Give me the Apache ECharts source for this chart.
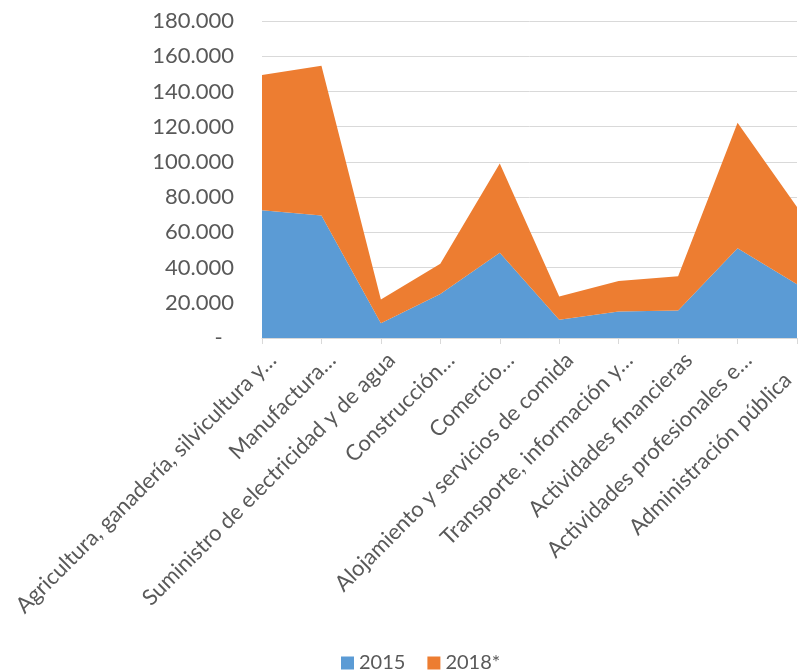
<!DOCTYPE html>
<html><head><meta charset="utf-8">
<script src="https://cdn.jsdelivr.net/npm/echarts@6/dist/echarts.min.js"></script>
<style>html,body{margin:0;padding:0;background:#fff}#c{width:798px;height:672px}</style>
</head><body><div id="c"></div>
<script>
const categories = [
  "Agricultura, ganadería, silvicultura y…",
  "Manufactura…",
  "Suministro de electricidad y de agua",
  "Construcción…",
  "Comercio…",
  "Alojamiento y servicios de comida",
  "Transporte, información y…",
  "Actividades financieras",
  "Actividades profesionales e…",
  "Administración pública"
];
const values2015 = [72500, 69600, 8400, 25000, 48400, 10400, 15000, 15600, 51000, 30500];
const values2018 = [76800, 85000, 13400, 17100, 50700, 13100, 17300, 19500, 71200, 43900];
const seriesNames = ["2015", "2018*"];

const font = "Lato, 'Open Sans', sans-serif";
const chart = echarts.init(document.getElementById('c'), null, {renderer: 'canvas'});
chart.setOption({
  animation: false,
  backgroundColor: '#fff',
  color: ['#5B9BD5', '#ED7D31'],
  grid: {left: 262, right: 1, top: 21, bottom: 334, containLabel: false, outerBoundsMode: 'none'},
  legend: {
    top: 648, left: 336, itemWidth: 13, itemHeight: 13, itemGap: 22,
    icon: 'rect',
    textStyle: {color: '#595959', fontSize: 20, fontFamily: font},
    data: seriesNames
  },
  xAxis: {
    type: 'category', data: categories, boundaryGap: false,
    axisLine: {lineStyle: {color: '#d9d9d9', width: 1}},
    axisTick: {show: true, alignWithLabel: true, length: 6, lineStyle: {color: '#d9d9d9'}},
    axisLabel: {rotate: 45, interval: 0, margin: 8, lineHeight: 30,
      formatter: (v, i) => i === categories.length - 1 ? ' \n{e|' + v + '}' : ' \n' + v,
      rich: {e: {padding: [0, 28, 0, 0], color: '#595959', fontSize: 22, fontFamily: font, lineHeight: 30}},
      color: '#595959', fontSize: 22, fontFamily: font}
  },
  yAxis: {
    type: 'value', min: 0, max: 180000, interval: 20000,
    axisLine: {show: false}, axisTick: {show: false},
    splitLine: {lineStyle: {color: '#d9d9d9', width: 1}},
    axisLabel: {
      margin: 28, color: '#595959', fontSize: 22, fontFamily: font,
      formatter: v => v === 0 ? '-  ' : v.toLocaleString('de-DE')
    }
  },
  series: [
    {name: seriesNames[0], type: 'line', stack: 't', data: values2015, symbol: 'none',
     lineStyle: {width: 0}, areaStyle: {opacity: 1}},
    {name: seriesNames[1], type: 'line', stack: 't', data: values2018, symbol: 'none',
     lineStyle: {width: 0}, areaStyle: {opacity: 1}}
  ]
});
</script></body></html>
